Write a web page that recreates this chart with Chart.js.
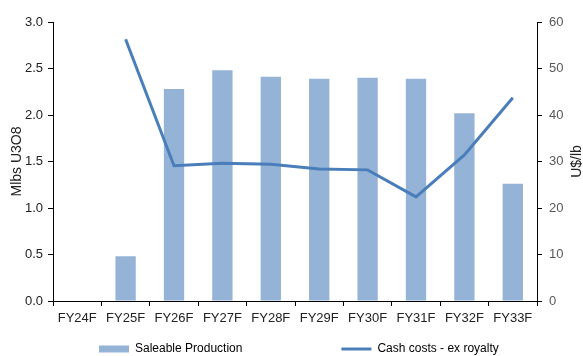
<!DOCTYPE html>
<html>
<head>
<meta charset="utf-8">
<script src="https://cdn.jsdelivr.net/npm/chart.js@4/dist/chart.umd.min.js"></script>
<style>
  html, body { margin: 0; padding: 0; background: #fff; overflow: hidden; }
  #wrap { width: 583px; height: 356px; overflow: hidden; }
</style>
</head>
<body>
<div id="wrap"><canvas id="c" width="583" height="365"></canvas></div>
<script>
const categories = ['FY24F','FY25F','FY26F','FY27F','FY28F','FY29F','FY30F','FY31F','FY32F','FY33F'];
const saleableProduction = [null, 0.48, 2.28, 2.48, 2.41, 2.39, 2.40, 2.39, 2.02, 1.26];
const cashCosts = [null, 56.3, 29.1, 29.6, 29.4, 28.4, 28.2, 22.4, 31.4, 43.7];
const seriesNames = ['Saleable Production', 'Cash costs - ex royalty'];
const leftTitle = 'Mlbs U3O8';
const rightTitle = 'U$/lb';

const FONT = '"Liberation Sans", Arial, sans-serif';
Chart.defaults.font.family = FONT;

const BAR_COLOR = '#95B3D7';
const LINE_COLOR = '#4A7EBB';

const rightTitlePlugin = {
  id: 'rightTitle',
  afterDraw(chart) {
    const ctx = chart.ctx;
    const s = chart.scales.y1;
    const ca = chart.chartArea;
    ctx.save();
    ctx.translate(s.right - 6, (ca.top + ca.bottom) / 2);
    ctx.rotate(-Math.PI / 2);
    ctx.font = '14px ' + FONT;
    ctx.fillStyle = '#222';
    ctx.textAlign = 'center';
    ctx.textBaseline = 'middle';
    ctx.fillText(rightTitle, 0, 0);
    ctx.restore();
  }
};

const spacer = () => ({ text: '', fillStyle: 'rgba(0,0,0,0)', strokeStyle: 'rgba(0,0,0,0)', lineWidth: 0, pointStyle: 'rect', hidden: false });

new Chart(document.getElementById('c'), {
  data: {
    labels: categories,
    datasets: [
      {
        type: 'line',
        label: seriesNames[1],
        data: cashCosts,
        yAxisID: 'y1',
        borderColor: LINE_COLOR,
        backgroundColor: LINE_COLOR,
        borderWidth: 3,
        pointRadius: 0,
        pointHoverRadius: 0,
        tension: 0,
        order: 0
      },
      {
        type: 'bar',
        label: seriesNames[0],
        data: saleableProduction,
        yAxisID: 'y',
        backgroundColor: BAR_COLOR,
        borderWidth: 0,
        barPercentage: 0.42,
        categoryPercentage: 1.0,
        order: 1
      }
    ]
  },
  options: {
    responsive: false,
    animation: false,
    devicePixelRatio: 1,
    layout: { padding: { top: 22, left: 0, right: 0, bottom: 0 } },
    plugins: {
      tooltip: { enabled: false },
      legend: {
        position: 'bottom',
        align: 'start',
        labels: {
          usePointStyle: true,
          pointStyleWidth: 30,
          boxHeight: 7,
          padding: 9,
          color: '#000',
          font: { size: 12, family: FONT },
          generateLabels: () => [
            spacer(),
            spacer(),
            { text: seriesNames[0], fillStyle: BAR_COLOR, strokeStyle: BAR_COLOR, lineWidth: 0, pointStyle: 'rect', hidden: false, datasetIndex: 1 },
            spacer(),
            spacer(),
            { text: seriesNames[1], fillStyle: LINE_COLOR, strokeStyle: LINE_COLOR, lineWidth: 3, lineCap: 'butt', pointStyle: 'line', hidden: false, datasetIndex: 0 }
          ]
        }
      }
    },
    scales: {
      x: {
        type: 'category',
        offset: true,
        afterFit: (s) => { s.height = 33; },
        grid: { display: true, drawOnChartArea: false, drawTicks: true, tickLength: 5, color: '#000', offset: true },
        border: { display: true, color: '#000', width: 1 },
        ticks: { color: '#222', font: { size: 13 }, padding: 5, autoSkip: false, maxRotation: 0 }
      },
      y: {
        position: 'left',
        min: 0, max: 3,
        afterFit: (s) => { s.width = 53; },
        grid: { display: true, drawOnChartArea: false, drawTicks: true, tickLength: 5, color: '#000' },
        border: { display: true, color: '#000', width: 1 },
        ticks: { stepSize: 0.5, color: '#222', font: { size: 13 }, padding: 5, callback: (v) => Number(v).toFixed(1) },
        title: { display: true, text: leftTitle, color: '#222', font: { size: 14 }, padding: { top: 9, bottom: 0 } }
      },
      y1: {
        position: 'right',
        min: 0, max: 60,
        afterFit: (s) => { s.width = 46; },
        grid: { display: true, drawOnChartArea: false, drawTicks: true, tickLength: 5, color: '#000' },
        border: { display: true, color: '#000', width: 1 },
        ticks: { stepSize: 10, color: '#595959', font: { size: 13 }, padding: 7, callback: (v) => String(v) }
      }
    }
  },
  plugins: [rightTitlePlugin]
});
</script>
</body>
</html>
